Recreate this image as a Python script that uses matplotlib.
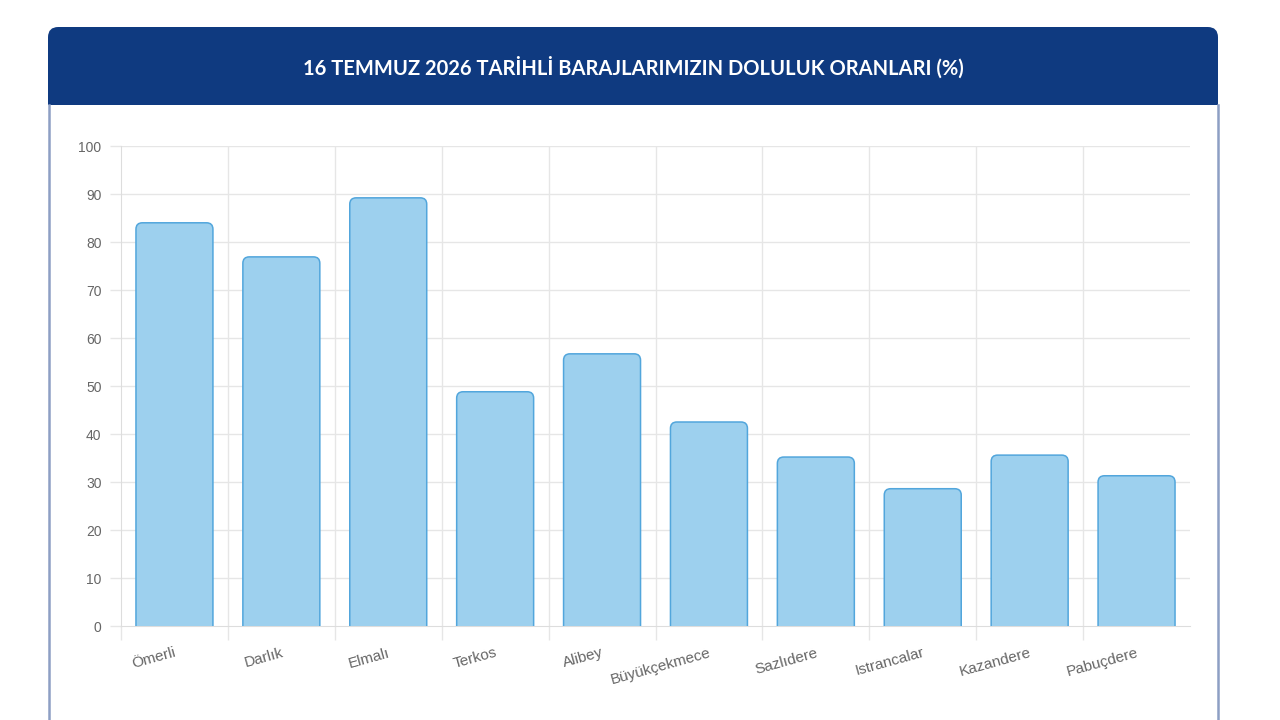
import matplotlib
matplotlib.use("Agg")
import matplotlib.pyplot as plt
from matplotlib.patches import FancyBboxPatch, Rectangle
from matplotlib.lines import Line2D

categories = ["Ömerli", "Darlık", "Elmalı", "Terkos", "Alibey", "Büyükçekmece",
              "Sazlıdere", "Istrancalar", "Kazandere", "Pabuçdere"]
values = [84.0, 76.9, 89.2, 48.8, 56.7, 42.5, 35.2, 28.6, 35.6, 31.3]
yticks = [0, 10, 20, 30, 40, 50, 60, 70, 80, 90, 100]
title = "16 TEMMUZ 2026 TARİHLİ BARAJLARIMIZIN DOLULUK ORANLARI (%)"

W, H = 1280, 720
fig = plt.figure(figsize=(12.8, 7.2), dpi=100)
fig.patch.set_facecolor("white")

def fx(px):
    return px / W

def fy(py):
    return 1 - py / H

# Card header
hdr_col = "#0f3a80"
border_col = "#8d9fc4"
hx0, hx1, hy0, hy1 = 48, 1218, 27, 105
fig.patches.append(FancyBboxPatch((fx(hx0), fy(hy1)), fx(hx1 - hx0), (hy1 - hy0) / H,
                                  boxstyle="round,pad=0,rounding_size=0.008",
                                  mutation_aspect=W / H,
                                  transform=fig.transFigure, facecolor=hdr_col,
                                  edgecolor="none", zorder=1))
fig.patches.append(Rectangle((fx(hx0), fy(hy1)), fx(hx1 - hx0), 20 / H,
                             transform=fig.transFigure, facecolor=hdr_col,
                             edgecolor="none", zorder=1))
for xx in (hx0 + 0.5, hx1 - 0.5):
    fig.lines.append(Line2D([fx(xx), fx(xx)], [0, fy(hy1)], transform=fig.transFigure,
                            color=border_col, lw=1.8, zorder=2))
fig.text(fx(633), fy(68), title, color="white", fontsize=14.5, fontweight="bold",
         family=["Lato", "DejaVu Sans"], ha="center", va="center")

# Axes
ax = fig.add_axes([fx(121), fy(626), fx(1190 - 121), (626 - 146) / H])
ax.set_facecolor("white")
x = list(range(len(categories)))
bars = ax.bar(x, values, width=0.72, color="none", edgecolor="none")

fill = "#9dd0ee"
edge = "#52a6dc"
px_per_x = (1190 - 121) / len(categories)
px_per_y = (626 - 146) / 100.0
for b in bars:
    bx, bw, bh = b.get_x(), b.get_width(), b.get_height()
    p = FancyBboxPatch((bx, -3), bw, bh + 3,
                       boxstyle="round,pad=0,rounding_size=0.06",
                       mutation_aspect=px_per_x / px_per_y,
                       facecolor=fill, edgecolor=edge, lw=1.1, zorder=3)
    ax.add_patch(p)

ax.set_xlim(-0.5, len(categories) - 0.5)
ax.set_ylim(0, 100)
ax.set_yticks(yticks)
ax.set_yticklabels([str(v) for v in yticks], family=["Liberation Sans", "DejaVu Sans"],
                   fontsize=10, color="#666666")
ax.set_xticks(x)
ax.set_xticklabels([])
ax.set_xticks([i - 0.5 for i in range(len(categories))], minor=True)

grid_col = "#e6e6e6"
ax.grid(False)
for v in yticks[1:]:
    ax.axhline(v, color=grid_col, lw=1, zorder=1)
for i in range(1, len(categories)):
    ax.axvline(i - 0.5, color=grid_col, lw=1, zorder=1)

ax.tick_params(axis="y", length=8, color=grid_col, pad=6, width=1)
ax.tick_params(axis="x", which="major", length=0)
ax.tick_params(axis="x", which="minor", length=10, color=grid_col, width=1)
for s in ("top", "right"):
    ax.spines[s].set_visible(False)
ax.spines["left"].set_color("#dddddd")
ax.spines["bottom"].set_color("#dddddd")

for i, name in enumerate(categories):
    ax.annotate(name, xy=(i, 0), xycoords="data", xytext=(1, -19),
                textcoords="offset points", ha="right", va="center",
                rotation=15.5, rotation_mode="anchor", fontsize=11, color="#666666",
                family=["Liberation Sans", "DejaVu Sans"], annotation_clip=False)

fig.savefig("out.png", dpi=100, facecolor="white")
